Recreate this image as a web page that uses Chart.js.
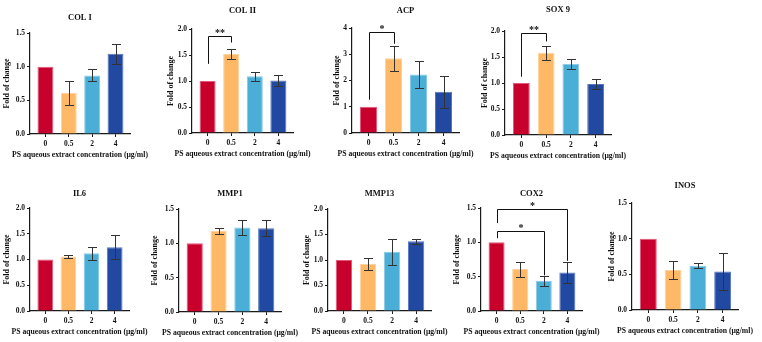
<!DOCTYPE html>
<html>
<head>
<meta charset="utf-8">
<script src="https://cdn.jsdelivr.net/npm/chart.js@4.4.0/dist/chart.umd.min.js"></script>
<style>
  body { margin: 0; background: #fff; width: 762px; height: 342px; overflow: hidden; position: relative; }
  canvas { position: absolute; }
</style>
</head>
<body>
<script>
// categories (dose, ug/ml)
const doses = ['0', '0.5', '2', '4'];
const xLabel = 'PS aqueous extract concentration (\u03bcg/ml)';
const yLabel = 'Fold of change';

// fold of change, mean and error
const colI = [1.0, 0.61, 0.87, 1.19];
const colIErr = [0, 0.18, 0.09, 0.15];
const colII = [1.0, 1.52, 1.09, 1.01];
const colIIErr = [0, 0.09, 0.09, 0.11];
const acp = [1.0, 2.85, 2.23, 1.57];
const acpErr = [0, 0.48, 0.5, 0.6];
const sox9 = [1.0, 1.58, 1.37, 0.98];
const sox9Err = [0, 0.14, 0.1, 0.1];
const il6 = [1.0, 1.06, 1.12, 1.24];
const il6Err = [0, 0.03, 0.12, 0.23];
const mmp1 = [1.0, 1.18, 1.23, 1.22];
const mmp1Err = [0, 0.04, 0.11, 0.12];
const mmp13 = [1.0, 0.92, 1.16, 1.37];
const mmp13Err = [0, 0.11, 0.26, 0.05];
const cox2 = [1.0, 0.61, 0.44, 0.56];
const cox2Err = [0, 0.11, 0.07, 0.155];
const inos = [1.0, 0.56, 0.62, 0.54];
const inosErr = [0, 0.12, 0.035, 0.26];

// significance brackets: [from, to, line level, left leg end, right leg end, mark]
const colIISig = [[0, 1, 1.86, 1.33, 1.74, '**']];
const acpSig = [[0, 1, 3.83, 1.27, 3.4, '*']];
const sox9Sig = [[0, 1, 1.97, 1.12, 1.8, '**']];
const cox2Sig = [[0, 3, 1.48, 1.28, 0.73, '*'], [0, 2, 1.165, 1.06, 0.52, '*']];

const barColors = ['#C8002C', '#FFB966', '#4BAED6', '#2249A2'];
const barEdges = ['#E2577A', '#FFD29C', '#86C9E6', '#5576BE'];

const serif = '"Liberation Serif", "Times New Roman", serif';
const AXIS_W = 32, PAD_R = 22, X_H = 30;
const Y_TITLE_SIZE = 8;

// panel: title, data, y range, and where its axes sit
// box = [x0, x1, yTop, yBot, titleY, gap from axis to y title]
const panels = [
  { title: 'COL I', values: colI, errors: colIErr, yMax: 1.5, yStep: 0.5, sig: [], box: [30, 130, 33, 134, 18, 23] },
  { title: 'COL II', values: colII, errors: colIIErr, yMax: 2, yStep: 0.5, sig: colIISig, box: [192, 293, 29, 133, 11, 21] },
  { title: 'ACP', values: acp, errors: acpErr, yMax: 4, yStep: 1, sig: acpSig, box: [352, 459, 28, 133, 11, 15] },
  { title: 'SOX 9', values: sox9, errors: sox9Err, yMax: 2, yStep: 0.5, sig: sox9Sig, box: [505, 611, 31, 135, 10, 20] },
  { title: 'IL6', values: il6, errors: il6Err, yMax: 2, yStep: 0.5, sig: [], box: [30, 129, 208, 311, 194, 23] },
  { title: 'MMP1', values: mmp1, errors: mmp1Err, yMax: 1.5, yStep: 0.5, sig: [], box: [179, 281, 209, 312, 194, 24] },
  { title: 'MMP13', values: mmp13, errors: mmp13Err, yMax: 2, yStep: 0.5, sig: [], box: [328, 431, 209, 311, 194, 21] },
  { title: 'COX2', values: cox2, errors: cox2Err, yMax: 1.5, yStep: 0.5, sig: cox2Sig, box: [481, 582, 208, 311, 194, 24] },
  { title: 'INOS', values: inos, errors: inosErr, yMax: 1.5, yStep: 0.5, sig: [], box: [632, 738, 203, 310, 186, 20] }
];

const axisLine = { color: '#1a1a1a', width: 1.2 };
const axisGrid = { drawOnChartArea: false, offset: false, tickLength: 3, color: '#1a1a1a', lineWidth: 1 };
const tickFont = { family: serif, size: 7.5, weight: 'bold' };

panels.forEach(p => {
  const [x0, x1, yTop, yBot, titleY, yGap] = p.box;
  const padTop = yTop - titleY + 9;
  const cv = document.createElement('canvas');
  cv.width = AXIS_W + (x1 - x0) + PAD_R;
  cv.height = padTop + (yBot - yTop) + X_H;
  cv.style.left = (x0 - AXIS_W) + 'px';
  cv.style.top = (yTop - padTop) + 'px';
  document.body.appendChild(cv);

  // error bars, brackets and the text that sits outside the axes
  const extras = {
    id: 'extras',
    afterDatasetsDraw(chart) {
      const { ctx, chartArea: a } = chart;
      const y = chart.scales.y;
      const bars = chart.getDatasetMeta(0).data;
      const px = v => Math.round(v) + 0.5;
      ctx.save();
      ctx.lineWidth = 1;
      ctx.strokeStyle = '#333';
      bars.forEach((b, i) => {
        const e = p.errors[i];
        if (!e) return;
        const hi = px(y.getPixelForValue(p.values[i] + e));
        const lo = px(y.getPixelForValue(p.values[i] - e));
        const cx = px(b.x);
        ctx.beginPath();
        ctx.moveTo(cx, hi); ctx.lineTo(cx, lo);
        ctx.moveTo(cx - 4.5, hi); ctx.lineTo(cx + 4.5, hi);
        ctx.moveTo(cx - 4.5, lo); ctx.lineTo(cx + 4.5, lo);
        ctx.stroke();
      });
      ctx.strokeStyle = '#111';
      ctx.fillStyle = '#111';
      ctx.textAlign = 'center';
      ctx.textBaseline = 'middle';
      p.sig.forEach(s => {
        const xa = px(bars[s[0]].x), xb = px(bars[s[1]].x);
        const yy = px(y.getPixelForValue(s[2]));
        ctx.beginPath();
        ctx.moveTo(xa, y.getPixelForValue(s[3]));
        ctx.lineTo(xa, yy);
        ctx.lineTo(xb, yy);
        ctx.lineTo(xb, y.getPixelForValue(s[4]));
        ctx.stroke();
        ctx.font = 'bold 10px ' + serif;
        ctx.fillText(s[5], (xa + xb) / 2, yy - 3);
      });
      const mid = (a.left + a.right) / 2;
      ctx.font = 'bold 8.5px ' + serif;
      ctx.fillText(p.title, mid, a.top - (yTop - titleY));
      ctx.font = 'bold 7.7px ' + serif;
      ctx.fillText(xLabel, mid, a.bottom + 21);
      ctx.restore();
    }
  };

  new Chart(cv, {
    type: 'bar',
    data: {
      datasets: [{
        data: p.values.map((v, i) => ({ x: i, y: v })),
        backgroundColor: barColors,
        borderColor: barEdges,
        borderWidth: 1,
        barPercentage: 0.68,
        categoryPercentage: 1
      }]
    },
    options: {
      responsive: false,
      animation: false,
      events: [],
      layout: { padding: { top: padTop, right: PAD_R, left: 0, bottom: 0 } },
      plugins: { legend: { display: false }, tooltip: { enabled: false } },
      scales: {
        x: {
          type: 'linear',
          offset: false,
          min: -0.66,
          max: 3.62,
          afterBuildTicks: s => { s.ticks = doses.map((d, i) => ({ value: i })); },
          afterFit: s => { s.height = X_H; },
          ticks: { callback: v => doses[v], font: tickFont, color: '#111', padding: 3, autoSkip: false, maxRotation: 0 },
          grid: axisGrid,
          border: axisLine
        },
        y: {
          min: 0,
          max: p.yMax,
          afterFit: s => { s.width = AXIS_W; },
          ticks: {
            stepSize: p.yStep,
            callback: v => p.yStep < 1 ? v.toFixed(1) : String(v),
            font: tickFont, color: '#111', padding: 2
          },
          grid: axisGrid,
          border: axisLine,
          title: {
            display: true, text: yLabel, color: '#111',
            font: { family: serif, size: Y_TITLE_SIZE, weight: 'bold' },
            padding: { top: AXIS_W - yGap - Y_TITLE_SIZE * 0.6, bottom: 0 }
          }
        }
      }
    },
    plugins: [extras]
  });
});
</script>
</body>
</html>
